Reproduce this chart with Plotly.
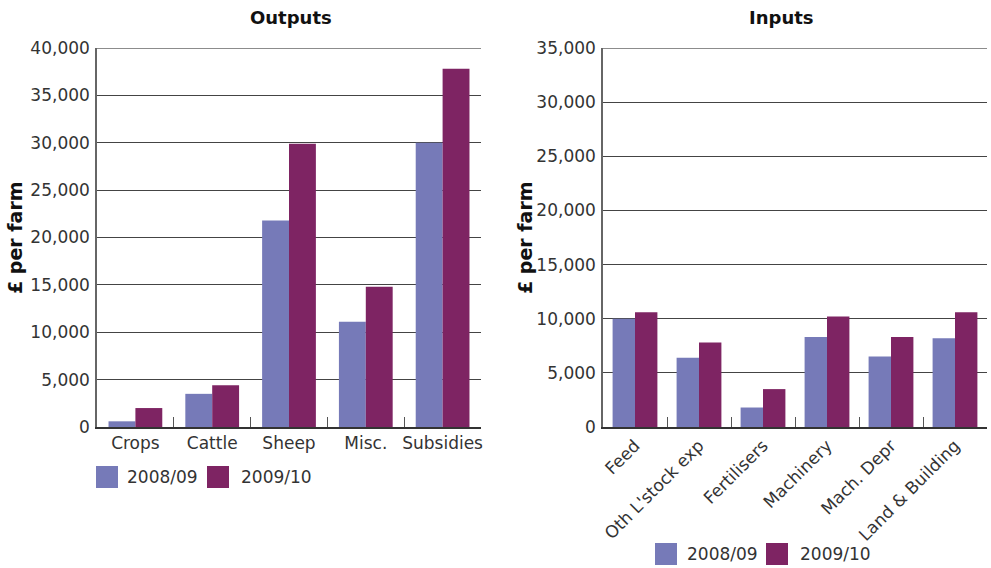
import plotly.graph_objects as go

# Farm business outputs and inputs, £ per farm
out_categories = ["Crops", "Cattle", "Sheep", "Misc.", "Subsidies"]
out_2008 = [600, 3500, 21800, 11100, 30000]
out_2009 = [2000, 4400, 29900, 14800, 37800]

in_categories = ["Feed", "Oth L'stock exp", "Fertilisers", "Machinery",
                 "Mach. Depr", "Land & Building"]
in_2008 = [10000, 6400, 1800, 8300, 6500, 8200]
in_2009 = [10600, 7800, 3500, 10200, 8300, 10600]

out_ticks = [0, 5000, 10000, 15000, 20000, 25000, 30000, 35000, 40000]
in_ticks = [0, 5000, 10000, 15000, 20000, 25000, 30000, 35000]

series_names = ["2008/09", "2009/10"]
C_A = "#767AB8"
C_B = "#7E2463"
FONT = "DejaVu Sans"
TXT = "#333333"

W, H = 991, 568


def px_x(x):
    return x / W


def px_y(y):
    return 1 - y / H


fig = go.Figure()
for cats, vals, name, col, xa, ya in (
    (out_categories, out_2008, series_names[0], C_A, "x", "y"),
    (out_categories, out_2009, series_names[1], C_B, "x", "y"),
    (in_categories, in_2008, series_names[0], C_A, "x2", "y2"),
    (in_categories, in_2009, series_names[1], C_B, "x2", "y2"),
):
    fig.add_trace(go.Bar(x=cats, y=vals, name=name, xaxis=xa, yaxis=ya,
                         marker=dict(color=col, line=dict(width=0)),
                         showlegend=False))

ydom = [px_y(427), px_y(48)]
tickfont = dict(family=FONT, size=17, color=TXT)

xcommon = dict(type="category", showgrid=False, showline=True, linecolor="#333333",
               linewidth=2, ticks="inside", tickson="boundaries", ticklen=10,
               tickcolor="#555555", tickwidth=1, tickfont=tickfont, fixedrange=True,
               automargin=False)
ycommon = dict(showgrid=True, gridcolor="#444444", gridwidth=1, showline=True,
               linecolor="#666666", linewidth=1.5, ticks="", tickfont=tickfont,
               tickformat=",d", zeroline=False, fixedrange=True, automargin=False,
               ticklabelstandoff=2)

fig.update_layout(
    width=W, height=H,
    margin=dict(l=0, r=0, t=0, b=0, autoexpand=False),
    paper_bgcolor="white", plot_bgcolor="white",
    barmode="group", bargap=0.3, bargroupgap=0,
    showlegend=False,
    xaxis=dict(domain=[px_x(97), px_x(481)], anchor="y", tickangle=0, **xcommon),
    yaxis=dict(domain=ydom, anchor="x", range=[0, 40000], tickvals=out_ticks, **ycommon),
    xaxis2=dict(domain=[px_x(603), px_x(987)], anchor="y2", tickangle=-45, **xcommon),
    yaxis2=dict(domain=ydom, anchor="x2", range=[0, 35000], tickvals=in_ticks, **ycommon),
)

# Lighter top border line on each panel
for xr, yr, top in (("x domain", "y", 40000), ("x2 domain", "y2", 35000)):
    fig.add_shape(type="line", xref=xr, yref=yr, x0=0, x1=1, y0=top, y1=top,
                  line=dict(color="#8c8c8c", width=2))

annotations = [
    dict(text="<b>Outputs</b>", x=px_x(291), y=px_y(17)),
    dict(text="<b>Inputs</b>", x=px_x(781), y=px_y(17)),
]
for a in annotations:
    a.update(xref="paper", yref="paper", showarrow=False,
             font=dict(family=FONT, size=18, color="#111111"),
             xanchor="center", yanchor="middle")
    fig.add_annotation(**a)

for xc in (15, 525):
    fig.add_annotation(text="<b>£ per farm</b>", x=px_x(xc), y=px_y(238),
                       xref="paper", yref="paper", showarrow=False, textangle=-90,
                       font=dict(family=FONT, size=19, color="#111111"),
                       xanchor="center", yanchor="middle")

# Legend swatches and labels for each panel
legend_rows = [
    (466, [(96, C_A, series_names[0], 125), (207, C_B, series_names[1], 239)]),
    (543, [(655, C_A, series_names[0], 685), (766, C_B, series_names[1], 798)]),
]
for ytop, items in legend_rows:
    for x0, col, label, tx in items:
        fig.add_shape(type="rect", xref="paper", yref="paper",
                      x0=px_x(x0), x1=px_x(x0 + 22), y0=px_y(ytop + 22), y1=px_y(ytop),
                      fillcolor=col, line=dict(width=0))
        fig.add_annotation(text=label, x=px_x(tx), y=px_y(ytop + 11),
                           xref="paper", yref="paper", showarrow=False,
                           xanchor="left", yanchor="middle",
                           font=dict(family=FONT, size=17, color=TXT))

fig.write_html("out.html")
